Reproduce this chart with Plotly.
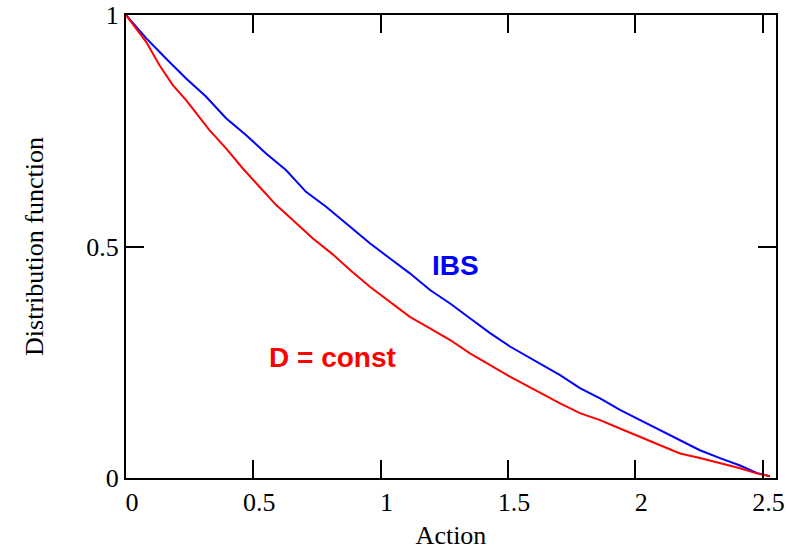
import plotly.graph_objects as go

# Distribution function vs. action for the two diffusion models
ibs_x = [0, 0.079, 0.157, 0.236, 0.314, 0.393, 0.471, 0.550, 0.628, 0.707, 0.786,
         0.864, 0.958, 1.037, 1.115, 1.194, 1.273, 1.351, 1.430, 1.508, 1.587,
         1.665, 1.705, 1.783, 1.862, 1.940, 2.019, 2.097, 2.176, 2.254, 2.333,
         2.412, 2.477, 2.529]
ibs_y = [1.0, 0.950, 0.906, 0.863, 0.824, 0.777, 0.741, 0.701, 0.665, 0.618, 0.586,
         0.550, 0.507, 0.474, 0.442, 0.406, 0.377, 0.345, 0.313, 0.284, 0.259,
         0.235, 0.222, 0.194, 0.172, 0.147, 0.125, 0.104, 0.082, 0.060, 0.043,
         0.027, 0.011, 0.004]

dconst_x = [0, 0.079, 0.131, 0.183, 0.236, 0.327, 0.393, 0.458, 0.524, 0.589, 0.655,
            0.733, 0.812, 0.880, 0.958, 1.037, 1.115, 1.194, 1.273, 1.351, 1.430,
            1.508, 1.600, 1.705, 1.783, 1.862, 1.940, 2.019, 2.097, 2.176, 2.254,
            2.333, 2.412, 2.477, 2.529]
dconst_y = [1.0, 0.942, 0.892, 0.849, 0.816, 0.752, 0.712, 0.669, 0.629, 0.590, 0.557,
            0.518, 0.483, 0.449, 0.413, 0.381, 0.348, 0.323, 0.298, 0.269, 0.244,
            0.219, 0.192, 0.161, 0.140, 0.125, 0.107, 0.089, 0.071, 0.053, 0.043,
            0.032, 0.021, 0.010, 0.004]

x_ticks = [0, 0.5, 1, 1.5, 2, 2.5]
x_tick_text = ["0", "0.5", "1", "1.5", "2", "2.5"]
y_ticks = [0, 0.5, 1]
y_tick_text = ["0", "0.5", "1"]

serif = "Liberation Serif, Times New Roman, serif"
sans = "Liberation Sans, Arial, sans-serif"

fig = go.Figure()
fig.add_trace(go.Scatter(x=ibs_x, y=ibs_y, mode="lines",
                         line=dict(color="#0000ff", width=2), showlegend=False))
fig.add_trace(go.Scatter(x=dconst_x, y=dconst_y, mode="lines",
                         line=dict(color="#ff0000", width=2), showlegend=False))

fig.add_annotation(x=1.295, y=0.459, text="<b>IBS</b>", showarrow=False,
                   font=dict(family=sans, size=28, color="#0000ff"))
fig.add_annotation(x=0.81, y=0.261, text="<b>D = const</b>", showarrow=False,
                   font=dict(family=sans, size=28, color="#ff0000"))

axis_common = dict(
    showline=True, linecolor="black", linewidth=2, mirror="ticks",
    ticks="inside", ticklen=18, tickwidth=2, tickcolor="black",
    showgrid=False, zeroline=False, automargin=False,
    tickfont=dict(family=serif, size=26, color="black"),
)

fig.update_xaxes(range=[0, 2.553], tickvals=x_ticks, ticktext=x_tick_text,
                 ticklabelshift=6,
                 title=dict(text="Action", font=dict(family=serif, size=26, color="black"),
                            standoff=20),
                 **axis_common)
fig.update_yaxes(range=[0, 1], tickvals=y_ticks, ticktext=y_tick_text,
                 title=dict(text="Distribution function",
                            font=dict(family=serif, size=26, color="black"),
                            standoff=35),
                 **axis_common)

fig.update_layout(
    width=789, height=550,
    margin=dict(l=126, r=13, t=15, b=72),
    paper_bgcolor="white", plot_bgcolor="white",
)

fig.write_html("out.html")
